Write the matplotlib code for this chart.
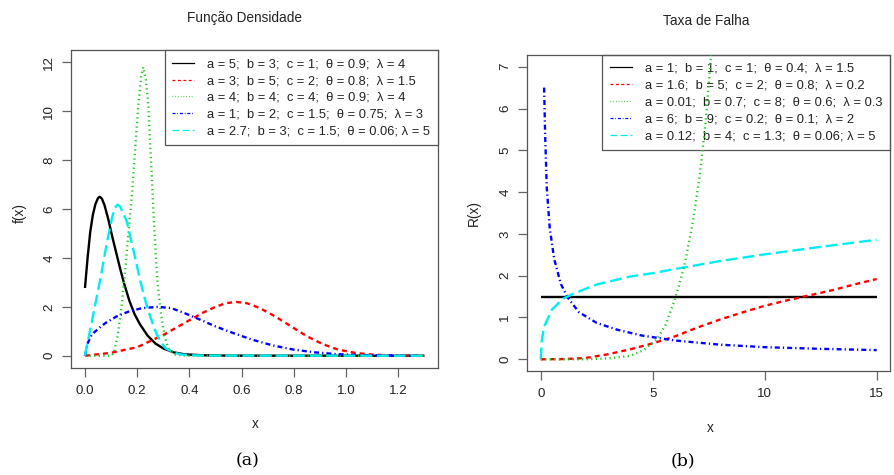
import matplotlib
matplotlib.use('Agg')
import matplotlib.pyplot as plt
from matplotlib.lines import Line2D

plt.rcParams['font.family'] = ['Liberation Sans', 'DejaVu Sans']
plt.rcParams['lines.scale_dashes'] = False

# ---------------- data: panel (a) density ----------------
xa_black = [0, 0.01, 0.02, 0.03, 0.04, 0.05, 0.057, 0.065, 0.075, 0.09, 0.105, 0.12, 0.135,
            0.15, 0.17, 0.19, 0.21, 0.24, 0.27, 0.3, 0.34, 0.38, 0.45, 0.55, 1.3]
ya_black = [2.77, 4.0, 5.05, 5.75, 6.2, 6.45, 6.5, 6.42, 6.15, 5.55, 4.85, 4.2, 3.55,
            2.95, 2.25, 1.7, 1.3, 0.82, 0.5, 0.3, 0.14, 0.06, 0.02, 0.005, 0.0]

xa_red = [0, 0.1, 0.2, 0.25, 0.3, 0.35, 0.4, 0.45, 0.5, 0.54, 0.58, 0.62, 0.67, 0.73, 0.79,
          0.85, 0.91, 0.97, 1.04, 1.11, 1.2, 1.3]
ya_red = [0, 0.12, 0.35, 0.6, 0.85, 1.15, 1.45, 1.75, 2.0, 2.15, 2.2, 2.15, 1.95, 1.6, 1.2,
          0.8, 0.48, 0.25, 0.11, 0.04, 0.01, 0.0]

xa_green = [0, 0.1, 0.11, 0.125, 0.14, 0.155, 0.168, 0.18, 0.192, 0.204, 0.215, 0.223, 0.233,
            0.243, 0.25, 0.256, 0.262, 0.27, 0.278, 0.29, 0.305, 0.32, 0.34, 0.4, 1.3]
ya_green = [0, 0, 0.1, 0.8, 2.0, 3.6, 5.2, 6.6, 8.4, 10.2, 11.4, 11.8, 11.3,
            10.2, 8.6, 7.4, 5.9, 4.4, 3.0, 1.8, 0.8, 0.3, 0.05, 0.0, 0.0]

xa_blue = [0, 0.01, 0.025, 0.05, 0.08, 0.12, 0.17, 0.22, 0.28, 0.33, 0.38, 0.44, 0.5, 0.57,
           0.64, 0.72, 0.8, 0.88, 0.96, 1.05, 1.15, 1.3]
ya_blue = [0, 0.5, 0.85, 1.1, 1.35, 1.6, 1.82, 1.95, 2.0, 1.95, 1.75, 1.48, 1.2, 0.92,
           0.66, 0.42, 0.25, 0.14, 0.07, 0.03, 0.01, 0.0]

xa_cyan = [0, 0.015, 0.03, 0.045, 0.06, 0.075, 0.09, 0.105, 0.115, 0.125, 0.135, 0.145, 0.16,
           0.175, 0.19, 0.21, 0.23, 0.25, 0.27, 0.29, 0.31, 0.34, 0.37, 0.42, 0.5, 1.3]
ya_cyan = [0, 0.8, 1.6, 2.4, 3.2, 4.1, 4.95, 5.7, 6.05, 6.18, 6.1, 5.85, 5.5,
           4.8, 4.1, 3.15, 2.3, 1.6, 1.0, 0.55, 0.3, 0.13, 0.05, 0.015, 0.005, 0.0]

labels_a = ["a = 5;  b = 3;  c = 1;  θ = 0.9;  λ = 4",
            "a = 3;  b = 5;  c = 2;  θ = 0.8;  λ = 1.5",
            "a = 4;  b = 4;  c = 4;  θ = 0.9;  λ = 4",
            "a = 1;  b = 2;  c = 1.5;  θ = 0.75;  λ = 3",
            "a = 2.7;  b = 3;  c = 1.5;  θ = 0.06; λ = 5"]

# ---------------- data: panel (b) hazard ----------------
xb_black = [0, 15]
yb_black = [1.5, 1.5]

xb_red = [0, 1, 2, 3, 4, 5, 6, 7, 8, 9, 10, 11, 12, 13, 14, 15]
yb_red = [0, 0.005, 0.03, 0.12, 0.24, 0.38, 0.55, 0.76, 0.95, 1.12, 1.28, 1.41, 1.53, 1.65, 1.79, 1.92]

xb_green = [0, 2, 3, 4, 4.6, 5.2, 5.6, 6.0, 6.4, 6.8, 7.1, 7.35, 7.55, 7.7]
yb_green = [0, 0.0, 0.02, 0.08, 0.22, 0.48, 0.85, 1.45, 2.2, 3.3, 4.4, 5.6, 6.9, 8.0]

xb_blue = [0.15, 0.2, 0.27, 0.4, 0.6, 0.9, 1.2, 1.7, 2.5, 3.4, 4.5, 6, 8, 10, 12.5, 15]
yb_blue = [6.5, 5.3, 4.1, 3.15, 2.4, 1.8, 1.48, 1.13, 0.87, 0.71, 0.57, 0.45, 0.35, 0.29, 0.25, 0.22]

xb_cyan = [0, 0.05, 0.15, 0.5, 1, 1.5, 2.5, 4, 5, 6, 8, 10, 12.5, 15]
yb_cyan = [0, 0.45, 0.78, 1.19, 1.45, 1.58, 1.79, 1.98, 2.06, 2.16, 2.35, 2.51, 2.69, 2.86]

labels_b = ["a = 1;  b = 1;  c = 1;  θ = 0.4;  λ = 1.5",
            "a = 1.6;  b = 5;  c = 2;  θ = 0.8;  λ = 0.2",
            "a = 0.01;  b = 0.7;  c = 8;  θ = 0.6;  λ = 0.3",
            "a = 6;  b = 9;  c = 0.2;  θ = 0.1;  λ = 2",
            "a = 0.12;  b = 4;  c = 1.3;  θ = 0.06; λ = 5"]

xticks_a = [0.0, 0.2, 0.4, 0.6, 0.8, 1.0, 1.2]
yticks_a = [0, 2, 4, 6, 8, 10, 12]
xticks_b = [0, 5, 10, 15]
yticks_b = [0, 1, 2, 3, 4, 5, 6, 7]

# ---------------- styles ----------------
colors = ['black', '#ff0000', '#22c822', '#0000ff', '#00eeee']
dashes = [None, (3.6, 2.9), (0.9, 2.4), (3.6, 2.2, 0.9, 2.2), (8.5, 3.6)]
LW = 1.7

W, H = 894, 475
fig = plt.figure(figsize=(W / 100, H / 100), dpi=100)

def px_axes(x0, y0, x1, y1):
    return fig.add_axes([x0 / W, 1 - y1 / H, (x1 - x0) / W, (y1 - y0) / H])

axA = px_axes(71.4, 50.5, 437.9, 367.5)
axB = px_axes(527.3, 55.0, 890.1, 371.0)

def style(ax, xt, yt, xlim, ylim, xfmt):
    ax.set_xlim(*xlim)
    ax.set_ylim(*ylim)
    ax.set_xticks(xt)
    ax.set_xticklabels([xfmt(v) for v in xt])
    ax.set_yticks(yt)
    ax.set_yticklabels([str(v) for v in yt])
    for s in ax.spines.values():
        s.set_color('#555555')
        s.set_linewidth(0.9)
    ax.tick_params(direction='out', length=6.5, width=0.9, color='#666666',
                   labelsize=9.6, labelcolor='#222222')
    ax.tick_params(axis='x', pad=6)
    ax.tick_params(axis='y', pad=5)
    for lab in ax.get_yticklabels():
        lab.set_rotation(90)
        lab.set_va('center')

def draw(ax, xs, ys, labels):
    for x, y, c, d in zip(xs, ys, colors, dashes):
        kw = dict(color=c, lw=LW, solid_capstyle='butt', dash_capstyle='butt')
        if d is not None:
            kw['dashes'] = d
        ax.plot(x, y, **kw)
    hs = []
    for c, d in zip(colors, dashes):
        kw = dict(color=c, lw=0.9)
        if d is not None:
            kw['dashes'] = tuple(v * 0.6 for v in d)
        hs.append(Line2D([0], [0], **kw))
    leg = ax.legend(hs, labels, loc='upper right', borderaxespad=0, fontsize=9.3,
                    handlelength=1.7, handletextpad=1.0, borderpad=0.6,
                    labelspacing=0.37, fancybox=False, framealpha=1)
    leg.get_frame().set_edgecolor('#555555')
    leg.get_frame().set_linewidth(0.9)
    for t in leg.get_texts():
        t.set_color('#222222')
    return leg

draw(axA, [xa_black, xa_red, xa_green, xa_blue, xa_cyan],
     [ya_black, ya_red, ya_green, ya_blue, ya_cyan], labels_a)
legB = draw(axB, [xb_black, xb_red, xb_green, xb_blue, xb_cyan],
            [yb_black, yb_red, yb_green, yb_blue, yb_cyan], labels_b)
legB.get_frame().set_facecolor('none')
legB.set_zorder(1)
axB.lines[2].set_zorder(5)

style(axA, xticks_a, yticks_a, (-0.052, 1.352), (-0.48, 12.48), lambda v: f"{v:.1f}")
style(axB, xticks_b, yticks_b, (-0.6, 15.6), (-0.28, 7.28), lambda v: f"{v:d}")

def ftext(x, y, s, **kw):
    fig.text(x / W, 1 - y / H, s, ha='center', va='center', **kw)

ftext(245, 18, "Função Densidade", fontsize=9.8, color='#222222')
ftext(706, 21, "Taxa de Falha", fontsize=9.8, color='#222222')
ftext(255, 424, "x", fontsize=9.8, color='#222222')
ftext(710, 428, "x", fontsize=9.8, color='#222222')
ftext(20, 213, "f(x)", fontsize=9.8, color='#222222', rotation=90)
ftext(474, 213, "R(x)", fontsize=9.8, color='#222222', rotation=90)
ftext(248, 461, "(a)", fontsize=12.5, family='DejaVu Serif', color='black')
ftext(683, 461, "(b)", fontsize=12.5, family='DejaVu Serif', color='black')

fig.savefig('out.png', dpi=100, facecolor='white')
